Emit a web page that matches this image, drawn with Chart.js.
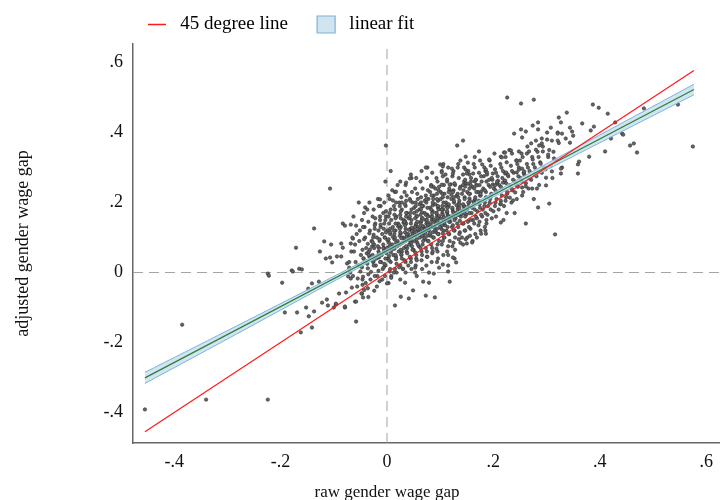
<!DOCTYPE html>
<html>
<head>
<meta charset="utf-8">
<script src="https://cdn.jsdelivr.net/npm/chart.js@4.4.1/dist/chart.umd.min.js"></script>
<style>
  html, body { margin: 0; background: #fff; }
  #wrap { width: 720px; height: 500px; }
</style>
</head>
<body>
<div id="wrap"><canvas id="chart"></canvas></div>
<script>
// axis ranges and tick labels
const xRange = [-0.4774, 0.626];
const yRange = [-0.487, 0.653];
const xTickVals = [-0.4, -0.2, 0, 0.2, 0.4, 0.6];
const yTickVals = [-0.4, -0.2, 0, 0.2, 0.4, 0.6];

// 45 degree line and linear fit (ends)
const diagX = [-0.455, 0.577];
const diagY = [-0.455, 0.577];
const fitX = [-0.455, 0.577];
const fitY = [-0.301, 0.523];
// confidence band of the fit
const ciX = [-0.455, -0.3, -0.15, 0, 0.08, 0.2, 0.35, 0.577];
const ciLow = [-0.317, -0.19, -0.066, 0.057, 0.122, 0.216, 0.332, 0.508];
const ciHigh = [-0.285, -0.166, -0.05, 0.067, 0.13, 0.228, 0.352, 0.538];

// raw gap, adjusted gap for every unit
const gapPoints = [
  // outer left
  [-0.455,-0.391],[-0.385,-0.149],[-0.34,-0.363],[-0.224,-0.363],[-0.224,-0.003],[-0.179,0.006],[-0.165,0.011],
  [-0.107,0.24],[-0.137,0.126],[-0.171,0.071],[-0.126,0.06],[-0.177,0.003],[-0.16,0.009],[-0.222,-0.009],[-0.197,-0.029],
  [-0.192,-0.114],[-0.169,-0.114],[-0.162,-0.171],[-0.152,-0.1],[-0.147,-0.125],[-0.141,-0.157],[-0.137,-0.111],
  [-0.148,-0.046],[-0.141,-0.031],[-0.128,-0.026],[-0.122,-0.086],[-0.113,-0.077],[-0.111,-0.094],[-0.1,-0.1],
  [-0.096,-0.091],[-0.09,-0.06],[-0.077,-0.057],[-0.079,-0.1],[-0.06,-0.083],[-0.058,-0.14],[-0.045,-0.071],
  [-0.047,-0.06],[-0.118,0.089],[-0.105,0.08],[-0.115,0.04],[-0.107,0.043],[-0.103,0.029],[-0.094,0.046],
  [-0.086,0.046],[-0.086,0.083],[-0.083,0.071],[-0.083,0.14],[-0.079,0.134],[-0.068,0.137],[-0.058,0.134],
  [-0.053,0.2],[-0.041,0.186],[-0.068,0.083],[-0.064,0.097],[-0.075,0.026],[-0.071,0.014],[-0.073,-0.011],
  [-0.068,-0.017],[-0.066,-0.043],[-0.055,-0.017],[-0.096,-0.089],[-0.079,-0.097],[-0.058,-0.083],
  [-0.067,0.06],[-0.071,0.03],[-0.065,0.1],[-0.069,0.0],[-0.063,0.16],
  // core of the cloud
  [-0.057,0.11],[-0.062,0.06],[-0.059,0.03],[-0.064,-0.01],[-0.056,-0.04],[-0.06,0.08],
  [-0.047,0.15],[-0.052,0.09],[-0.049,0.05],[-0.054,0.02],[-0.046,-0.02],[-0.05,0.003],[-0.051,0.12],[-0.048,-0.06],
  [-0.037,0.18],[-0.042,0.13],[-0.039,0.07],[-0.044,0.04],[-0.036,0.012],[-0.04,-0.03],[-0.041,0.1],[-0.038,0.055],[-0.043,-0.05],
  [-0.027,0.16],[-0.032,0.12],[-0.029,0.09],[-0.034,0.06],[-0.026,0.03],[-0.03,0.002],[-0.031,-0.02],[-0.028,0.075],[-0.033,0.045],[-0.025,0.108],[-0.035,-0.07],
  [-0.017,0.21],[-0.022,0.14],[-0.019,0.1],[-0.024,0.08],[-0.016,0.06],[-0.02,0.04],[-0.021,0.02],[-0.018,-0.01],[-0.023,0.125],[-0.015,0.07],[-0.025,0.033],[-0.019,-0.04],
  [-0.007,0.17],[-0.012,0.13],[-0.009,0.11],[-0.014,0.09],[-0.006,0.07],[-0.01,0.05],[-0.011,0.03],[-0.008,0.01],[-0.013,0.15],[-0.005,0.062],[-0.015,0.043],[-0.009,-0.02],[-0.012,0.19],
  [0.003,0.22],[-0.002,0.16],[0.001,0.12],[-0.004,0.1],[0.004,0.085],[0,0.07],[-0.001,0.055],[0.002,0.04],[-0.003,0.02],[0.005,0.003],[-0.005,0.14],[0.001,0.092],[0.003,-0.03],[-0.002,0.115],
  [0.013,0.19],[0.008,0.15],[0.011,0.13],[0.006,0.11],[0.014,0.095],[0.01,0.08],[0.009,0.065],[0.012,0.05],[0.007,0.03],[0.015,0.01],[0.005,0.17],[0.011,0.102],[0.013,0.072],[0.008,-0.01],[0.01,0.235],
  [0.023,0.2],[0.018,0.16],[0.021,0.14],[0.016,0.12],[0.024,0.105],[0.02,0.09],[0.019,0.075],[0.022,0.06],[0.017,0.045],[0.025,0.02],[0.015,0.18],[0.021,0.132],[0.023,0.082],[0.018,0.0],[0.02,0.25],[0.026,0.112],
  [0.033,0.23],[0.028,0.18],[0.031,0.15],[0.026,0.13],[0.034,0.115],[0.03,0.1],[0.029,0.085],[0.032,0.07],[0.027,0.05],[0.035,0.03],[0.025,0.165],[0.031,0.142],[0.033,0.097],[0.028,0.06],[0.03,0.01],[0.036,0.205],
  [0.043,0.21],[0.038,0.17],[0.041,0.155],[0.036,0.14],[0.044,0.125],[0.04,0.11],[0.039,0.095],[0.042,0.08],[0.037,0.06],[0.045,0.04],[0.035,0.19],[0.041,0.122],[0.043,0.102],[0.038,0.07],[0.04,0.02],[0.046,0.27],[0.034,0.147],
  [0.053,0.24],[0.048,0.2],[0.051,0.17],[0.046,0.15],[0.054,0.135],[0.05,0.12],[0.049,0.105],[0.052,0.09],[0.047,0.075],[0.055,0.05],[0.045,0.03],[0.051,0.185],[0.053,0.13],[0.048,0.112],[0.05,0.065],[0.056,0.162],[0.044,0.088],
  [0.063,0.26],[0.058,0.21],[0.061,0.18],[0.056,0.16],[0.064,0.145],[0.06,0.13],[0.059,0.115],[0.062,0.1],[0.057,0.085],[0.065,0.06],[0.055,0.04],[0.061,0.195],[0.063,0.14],[0.058,0.122],[0.06,0.075],[0.066,0.172],[0.054,0.02],
  [0.073,0.22],[0.068,0.19],[0.071,0.17],[0.066,0.155],[0.074,0.14],[0.07,0.125],[0.069,0.11],[0.072,0.095],[0.067,0.08],[0.075,0.06],[0.065,0.035],[0.071,0.205],[0.073,0.15],[0.068,0.132],[0.07,0.1],[0.076,0.3],[0.064,0.182],
  [0.083,0.25],[0.078,0.21],[0.081,0.185],[0.076,0.165],[0.084,0.15],[0.08,0.135],[0.079,0.12],[0.082,0.105],[0.077,0.09],[0.085,0.07],[0.075,0.045],[0.081,0.23],[0.083,0.16],[0.078,0.142],[0.08,0.11],[0.086,0.192],[0.074,0.02],
  [0.093,0.27],[0.088,0.22],[0.091,0.195],[0.086,0.175],[0.094,0.16],[0.09,0.145],[0.089,0.13],[0.092,0.115],[0.087,0.1],[0.095,0.08],[0.085,0.055],[0.091,0.24],[0.093,0.17],[0.088,0.152],[0.09,0.12],[0.096,0.205],
  [0.103,0.29],[0.098,0.245],[0.101,0.21],[0.096,0.185],[0.104,0.17],[0.1,0.155],[0.099,0.14],[0.102,0.125],[0.097,0.11],[0.105,0.09],[0.095,0.06],[0.101,0.23],[0.103,0.18],[0.098,0.162],[0.1,0.13],[0.106,0.31],[0.094,0.03],
  [0.113,0.26],[0.108,0.225],[0.111,0.2],[0.106,0.18],[0.114,0.165],[0.11,0.15],[0.109,0.135],[0.112,0.12],[0.107,0.1],[0.115,0.075],[0.105,0.215],[0.111,0.19],[0.113,0.172],[0.108,0.142],[0.11,0.28],
  [0.123,0.275],[0.118,0.235],[0.121,0.21],[0.116,0.19],[0.124,0.175],[0.12,0.16],[0.119,0.145],[0.122,0.13],[0.117,0.11],[0.125,0.085],[0.115,0.05],[0.121,0.222],[0.123,0.182],[0.118,0.155],[0.12,0.252],
  [0.133,0.3],[0.128,0.25],[0.131,0.22],[0.126,0.2],[0.134,0.185],[0.13,0.17],[0.129,0.155],[0.132,0.14],[0.127,0.12],[0.135,0.095],[0.125,0.235],[0.131,0.192],[0.133,0.165],[0.128,0.065],
  [0.143,0.28],[0.138,0.245],[0.141,0.225],[0.136,0.205],[0.144,0.19],[0.14,0.175],[0.139,0.16],[0.142,0.14],[0.137,0.115],[0.145,0.26],[0.135,0.197],[0.141,0.168],[0.143,0.08],[0.138,0.32],
  [0.153,0.29],[0.148,0.255],[0.151,0.23],[0.146,0.215],[0.154,0.2],[0.15,0.18],[0.149,0.165],[0.152,0.145],[0.147,0.12],[0.155,0.24],[0.145,0.19],[0.151,0.1],
  [0.163,0.31],[0.158,0.27],[0.161,0.245],[0.156,0.225],[0.164,0.205],[0.16,0.185],[0.159,0.17],[0.162,0.15],[0.157,0.125],[0.165,0.26],[0.155,0.212],[0.161,0.09],
  [0.173,0.285],[0.168,0.25],[0.171,0.23],[0.166,0.21],[0.174,0.195],[0.17,0.175],[0.169,0.155],[0.172,0.135],[0.167,0.265],[0.175,0.22],[0.165,0.33],
  [0.183,0.3],[0.178,0.26],[0.181,0.24],[0.176,0.22],[0.184,0.2],[0.18,0.18],[0.179,0.16],[0.182,0.275],[0.177,0.232],[0.185,0.12],
  [0.193,0.32],[0.188,0.28],[0.191,0.25],[0.186,0.23],[0.194,0.21],[0.19,0.19],[0.189,0.165],[0.192,0.265],[0.187,0.14],
  [0.203,0.295],[0.198,0.265],[0.201,0.24],[0.196,0.22],[0.204,0.2],[0.2,0.175],[0.199,0.252],[0.202,0.34],
  [0.213,0.31],[0.208,0.275],[0.211,0.25],[0.206,0.23],[0.214,0.205],[0.21,0.18],[0.209,0.262],
  [0.223,0.33],[0.218,0.29],[0.221,0.26],[0.216,0.24],[0.224,0.215],[0.22,0.19],[0.219,0.15],
  [0.233,0.305],[0.228,0.275],[0.231,0.25],[0.226,0.225],[0.234,0.2],[0.23,0.35],
  [0.243,0.32],[0.238,0.285],[0.241,0.26],[0.236,0.235],[0.244,0.21],[0.24,0.17],
  [0.253,0.34],[0.248,0.3],[0.251,0.27],[0.246,0.245],[0.254,0.22],
  [0.263,0.31],[0.258,0.28],[0.261,0.255],[0.256,0.23],[0.264,0.36],
  [0.273,0.33],[0.268,0.29],[0.271,0.265],[0.266,0.24],
  [0.283,0.345],[0.278,0.3],[0.281,0.275],[0.276,0.21],
  [0.293,0.36],[0.288,0.315],[0.291,0.285],[0.286,0.25],
  [0.303,0.33],[0.298,0.295],[0.301,0.38],
  [0.313,0.345],[0.308,0.305],[0.311,0.27],
  [0.323,0.37],[0.318,0.32],[0.321,0.4],
  // core, second pass between the first columns
  [-0.045,0.13],[-0.043,0.095],[-0.046,0.065],[-0.044,0.04],[-0.047,0.015],[-0.045,-0.012],[-0.043,0.17],[-0.046,-0.035],
  [-0.035,0.145],[-0.033,0.112],[-0.036,0.082],[-0.034,0.05],[-0.037,0.025],[-0.035,-0.005],[-0.033,0.2],[-0.036,-0.045],[-0.032,0.066],
  [-0.025,0.18],[-0.023,0.135],[-0.026,0.1],[-0.024,0.07],[-0.027,0.05],[-0.025,0.02],[-0.023,-0.01],[-0.022,0.155],[-0.027,0.087],[-0.024,-0.052],
  [-0.015,0.19],[-0.013,0.16],[-0.016,0.12],[-0.014,0.095],[-0.017,0.075],[-0.015,0.055],[-0.013,0.03],[-0.016,0.005],[-0.014,-0.025],[-0.012,0.137],[-0.017,0.045],
  [-0.005,0.2],[-0.003,0.15],[-0.006,0.125],[-0.004,0.1],[-0.007,0.08],[-0.005,0.06],[-0.003,0.04],[-0.006,0.015],[-0.004,-0.01],[-0.002,0.175],[-0.007,0.07],[-0.005,0.025],[-0.003,0.26],
  [0.005,0.21],[0.007,0.18],[0.004,0.14],[0.006,0.115],[0.003,0.095],[0.005,0.075],[0.007,0.058],[0.004,0.035],[0.006,0.01],[0.008,-0.015],[0.003,0.16],[0.006,0.125],[0.004,0.047],[0.007,0.29],
  [0.015,0.23],[0.017,0.2],[0.014,0.165],[0.016,0.14],[0.013,0.12],[0.015,0.1],[0.017,0.085],[0.014,0.068],[0.016,0.05],[0.018,0.025],[0.013,0.0],[0.016,0.155],[0.014,0.11],[0.017,0.038],
  [0.025,0.26],[0.027,0.215],[0.024,0.19],[0.026,0.155],[0.023,0.135],[0.025,0.115],[0.027,0.098],[0.024,0.08],[0.026,0.065],[0.028,0.04],[0.023,0.015],[0.026,0.175],[0.024,0.125],[0.027,0.052],[0.025,-0.02],
  [0.035,0.25],[0.037,0.22],[0.034,0.195],[0.036,0.17],[0.033,0.145],[0.035,0.125],[0.037,0.108],[0.034,0.09],[0.036,0.075],[0.038,0.055],[0.033,0.035],[0.036,0.16],[0.034,0.135],[0.037,0.1],[0.035,0.0],
  [0.045,0.28],[0.047,0.23],[0.044,0.205],[0.046,0.18],[0.043,0.16],[0.045,0.14],[0.047,0.118],[0.044,0.1],[0.046,0.085],[0.048,0.065],[0.043,0.045],[0.046,0.01],[0.044,0.17],[0.047,0.128],[0.045,0.092],
  [0.055,0.27],[0.057,0.225],[0.054,0.2],[0.056,0.175],[0.053,0.155],[0.055,0.14],[0.057,0.125],[0.054,0.108],[0.056,0.095],[0.058,0.08],[0.053,0.058],[0.056,0.035],[0.054,0.19],[0.057,0.145],[0.055,0.115],[0.056,-0.01],
  [0.065,0.29],[0.067,0.24],[0.064,0.215],[0.066,0.19],[0.063,0.165],[0.065,0.148],[0.067,0.132],[0.064,0.118],[0.066,0.105],[0.068,0.09],[0.063,0.07],[0.066,0.05],[0.064,0.2],[0.067,0.155],[0.065,0.125],[0.066,0.01],
  [0.075,0.27],[0.077,0.235],[0.074,0.21],[0.076,0.185],[0.073,0.165],[0.075,0.15],[0.077,0.136],[0.074,0.12],[0.076,0.105],[0.078,0.09],[0.073,0.07],[0.076,0.045],[0.074,0.2],[0.077,0.16],[0.075,0.128],[0.072,0.115],
  [0.085,0.285],[0.087,0.245],[0.084,0.22],[0.086,0.2],[0.083,0.18],[0.085,0.16],[0.087,0.145],[0.084,0.13],[0.086,0.115],[0.088,0.1],[0.083,0.08],[0.086,0.06],[0.084,0.03],[0.087,0.21],[0.085,0.17],[0.082,0.138],
  [0.095,0.26],[0.097,0.235],[0.094,0.21],[0.096,0.19],[0.093,0.17],[0.095,0.155],[0.097,0.14],[0.094,0.125],[0.096,0.11],[0.098,0.09],[0.093,0.068],[0.096,0.04],[0.094,0.225],[0.097,0.18],[0.095,0.148],
  [0.105,0.275],[0.107,0.25],[0.104,0.225],[0.106,0.2],[0.103,0.18],[0.105,0.165],[0.107,0.15],[0.104,0.135],[0.106,0.12],[0.108,0.1],[0.103,0.08],[0.106,0.05],[0.104,0.19],[0.107,0.158],[0.105,0.112],
  [0.115,0.3],[0.117,0.24],[0.114,0.215],[0.116,0.195],[0.113,0.175],[0.115,0.16],[0.117,0.145],[0.114,0.13],[0.116,0.11],[0.118,0.09],[0.113,0.06],[0.116,0.23],[0.114,0.185],[0.117,0.152],
  [0.125,0.29],[0.127,0.255],[0.124,0.23],[0.126,0.205],[0.123,0.185],[0.125,0.17],[0.127,0.15],[0.124,0.135],[0.126,0.12],[0.128,0.1],[0.123,0.075],[0.126,0.215],[0.124,0.16],[0.127,0.04],
  [0.135,0.27],[0.137,0.24],[0.134,0.215],[0.136,0.195],[0.133,0.18],[0.135,0.165],[0.137,0.148],[0.134,0.13],[0.136,0.11],[0.138,0.085],[0.133,0.225],[0.136,0.185],[0.134,0.31],
  [0.145,0.3],[0.147,0.265],[0.144,0.235],[0.146,0.21],[0.143,0.195],[0.145,0.18],[0.147,0.16],[0.144,0.14],[0.146,0.12],[0.148,0.095],[0.143,0.25],[0.146,0.17],
  [0.155,0.28],[0.157,0.25],[0.154,0.225],[0.156,0.205],[0.153,0.19],[0.155,0.17],[0.157,0.15],[0.154,0.13],[0.156,0.105],[0.158,0.26],[0.153,0.2],
  [0.165,0.3],[0.167,0.265],[0.164,0.24],[0.166,0.215],[0.163,0.2],[0.165,0.18],[0.167,0.16],[0.164,0.14],[0.166,0.11],[0.168,0.23],
  [0.175,0.32],[0.177,0.275],[0.174,0.25],[0.176,0.225],[0.173,0.205],[0.175,0.185],[0.177,0.165],[0.174,0.145],[0.176,0.12],
  [0.185,0.29],[0.187,0.26],[0.184,0.235],[0.186,0.215],[0.183,0.19],[0.185,0.17],[0.187,0.15],[0.184,0.13],
  [0.195,0.305],[0.197,0.27],[0.194,0.245],[0.196,0.225],[0.193,0.2],[0.195,0.18],[0.197,0.155],
  [0.205,0.285],[0.207,0.255],[0.204,0.235],[0.206,0.21],[0.203,0.19],[0.205,0.16],
  [0.215,0.3],[0.217,0.27],[0.214,0.245],[0.216,0.22],[0.213,0.195],
  [0.225,0.315],[0.227,0.28],[0.224,0.255],[0.226,0.23],[0.223,0.205],[0.225,0.17],
  [0.235,0.29],[0.237,0.265],[0.234,0.24],[0.245,0.31],[0.247,0.275],[0.244,0.25],[0.255,0.33],[0.257,0.285],
  [0.254,0.26],[0.265,0.3],[0.267,0.27],[0.275,0.31],[0.277,0.28],[0.285,0.33],[0.295,0.3],[0.305,0.35],
  // top edge of the cloud
  [-0.002,0.363],[0.143,0.377],[0.132,0.363],[0.173,0.346],[0.148,0.331],[0.152,0.314],[0.179,0.309],[0.192,0.323],
  [0.214,0.331],[0.22,0.343],[0.1,0.309],[0.105,0.303],[0.073,0.3],[0.122,0.297],[0.103,0.286],[0.148,0.294],
  [0.15,0.283],[0.124,0.283],[0.113,0.266],[0.162,0.283],[0.186,0.294],[0.188,0.286],[0.199,0.283],[0.222,0.283],
  [0.043,0.269],[0.036,0.257],[0.017,0.231],[0.083,0.246],[0.103,0.251],[0.118,0.251],[0.152,0.254],[0.169,0.249],
  [0.147,0.246],[0.207,0.26],[0.203,0.249],[-0.013,0.209],[0.011,0.206],[0.028,0.2],
  // upper right
  [0.226,0.5],[0.252,0.483],[0.276,0.494],[0.387,0.48],[0.398,0.471],[0.415,0.454],[0.323,0.443],[0.338,0.457],
  [0.327,0.429],[0.367,0.426],[0.389,0.417],[0.383,0.406],[0.344,0.414],[0.348,0.403],[0.35,0.391],[0.336,0.383],
  [0.344,0.371],[0.321,0.397],[0.329,0.397],[0.321,0.377],[0.308,0.414],[0.284,0.429],[0.274,0.42],[0.284,0.409],
  [0.301,0.4],[0.291,0.383],[0.28,0.377],[0.31,0.377],[0.291,0.369],[0.286,0.363],[0.271,0.369],[0.28,0.351],
  [0.293,0.346],[0.263,0.34],[0.267,0.346],[0.239,0.397],[0.252,0.409],[0.261,0.403],[0.254,0.386],[0.216,0.329],
  [0.222,0.343],[0.233,0.349],[0.235,0.34],[0.248,0.346],[0.303,0.337],[0.289,0.311],[0.274,0.323],[0.244,0.32],
  [0.25,0.32],[0.314,0.326],[0.329,0.3],[0.327,0.297],[0.361,0.317],[0.359,0.309],[0.359,0.283],[0.327,0.283],
  [0.31,0.289],[0.299,0.271],[0.299,0.249],[0.282,0.24],[0.273,0.24],[0.261,0.246],[0.254,0.243],[0.241,0.229],
  [0.224,0.286],[0.244,0.286],[0.248,0.294],[0.254,0.297],[0.258,0.289],[0.218,0.257],[0.222,0.263],[0.231,0.214],
  [0.237,0.206],[0.284,0.186],[0.305,0.197],[0.261,0.14],[0.316,0.109],[0.214,0.143],[0.214,0.197],[0.38,0.331],
  [0.41,0.346],[0.421,0.383],[0.442,0.397],[0.429,0.429],
  [0.483,0.469],[0.547,0.48],[0.575,0.36],[0.457,0.363],[0.464,0.369],[0.47,0.343],[0.444,0.394],
  // below the 45 degree line
  [0.015,-0.094],[0.026,-0.069],[0.041,-0.074],[0.049,-0.051],[0.073,-0.066],[0.09,-0.071],[0.068,-0.026],
  [0.079,-0.029],[0.118,-0.026],[0.034,-0.029],[0.053,0.0],[0.115,0.003],[0.079,0.0],[0.088,-0.003],[0.098,0.014],
  [0.105,0.023],[0.115,0.02],[0.13,0.029],[0.124,0.043],[0.053,0.014],[0.0,-0.031],[0.03,0.011],[0.15,0.083],
  [0.16,0.086],[0.177,0.111],[0.186,0.111],[0.169,0.1],[0.141,0.1]
];

const serif = '"Liberation Serif", "Times New Roman", serif';
const pair = (xs, ys) => xs.map((x, i) => ({ x: x, y: ys[i] }));
const fmtTick = v => {
  if (Math.abs(v) < 1e-9) return '0';
  return (v < 0 ? '-' : '') + Math.abs(v).toFixed(1).replace(/^0/, '');
};

// x axis title sits under the zero tick, as in the original
const xTitlePlugin = {
  id: 'xTitle',
  afterDraw(chart) {
    const { ctx, scales } = chart;
    ctx.save();
    ctx.font = '17px ' + serif;
    ctx.fillStyle = '#111';
    ctx.textAlign = 'center';
    ctx.textBaseline = 'middle';
    ctx.fillText('raw gender wage gap', scales.x.getPixelForValue(0), scales.x.bottom - 7);
    ctx.restore();
  }
};

document.addEventListener('DOMContentLoaded', function () {
  const ctx = document.getElementById('chart').getContext('2d');

  new Chart(ctx, {
    type: 'scatter',
    data: {
      datasets: [
        {
          type: 'line', label: 'ci low', data: pair(ciX, ciLow),
          borderColor: '#7fb2d6', borderWidth: 1, pointRadius: 0, fill: false, tension: 0.3, order: 5
        },
        {
          type: 'line', label: 'linear fit', data: pair(ciX, ciHigh),
          borderColor: '#7fb2d6', borderWidth: 1, pointRadius: 0, tension: 0.3,
          fill: '-1', backgroundColor: 'rgba(196,223,238,0.8)', order: 5
        },
        {
          type: 'line', label: 'fit', data: pair(fitX, fitY),
          borderColor: '#2e7d3c', borderWidth: 1.2, pointRadius: 0, fill: false, order: 3
        },
        {
          type: 'line', label: '45 degree line', data: pair(diagX, diagY),
          borderColor: '#ff1a1a', borderWidth: 1.2, pointRadius: 0, fill: false, order: 1
        },
        {
          label: 'units', data: gapPoints.map(p => ({ x: p[0], y: p[1] })),
          pointRadius: 1.7, pointBackgroundColor: '#666', pointBorderColor: '#2e2e2e',
          pointBorderWidth: 0.6, order: 10
        },
        {
          type: 'line', label: 'x0', data: pair([0, 0], yRange),
          borderColor: '#a0a0a0', borderWidth: 1, borderDash: [10, 6], pointRadius: 0, fill: false, order: 20
        },
        {
          type: 'line', label: 'y0', data: pair(xRange, [0, 0]),
          borderColor: '#a0a0a0', borderWidth: 1, borderDash: [10, 6], pointRadius: 0, fill: false, order: 20
        }
      ]
    },
    options: {
      responsive: true,
      maintainAspectRatio: false,
      animation: false,
      layout: { padding: 0, autoPadding: false },
      plugins: {
        tooltip: { enabled: false },
        legend: {
          position: 'top',
          align: 'start',
          fullSize: false,
          labels: {
            usePointStyle: true,
            pointStyleWidth: 18,
            boxHeight: 17,
            padding: 15,
            color: '#111',
            font: { family: serif, size: 19 },
            generateLabels: () => [
              { text: ' 45 degree line   ', pointStyle: 'line', strokeStyle: '#ff1a1a', fillStyle: '#ff1a1a', lineWidth: 1.5, datasetIndex: 3 },
              { text: ' linear fit', pointStyle: 'rect', strokeStyle: '#7fb2d6', fillStyle: '#d1e5f0', lineWidth: 1.2, datasetIndex: 1 }
            ]
          }
        }
      },
      scales: {
        x: {
          type: 'linear',
          min: xRange[0],
          max: xRange[1],
          afterBuildTicks: s => { s.ticks = xTickVals.map(v => ({ value: v })); },
          afterFit: s => { s.height = 57; s.paddingLeft = 0; s.paddingRight = 0; },
          grid: { display: false, drawTicks: false },
          border: { display: true, color: '#666', width: 1.5 },
          ticks: { callback: fmtTick, color: '#111', font: { family: serif, size: 18 }, padding: 8, maxRotation: 0, autoSkip: false }
        },
        y: {
          type: 'linear',
          min: yRange[0],
          max: yRange[1],
          afterBuildTicks: s => { s.ticks = yTickVals.map(v => ({ value: v })); },
          afterFit: s => { s.width = 133; s.paddingTop = 0; s.paddingBottom = 0; },
          grid: { display: false, drawTicks: false },
          border: { display: true, color: '#666', width: 1.5 },
          ticks: { callback: fmtTick, color: '#111', font: { family: serif, size: 18 }, padding: 10, autoSkip: false },
          title: {
            display: true,
            text: 'adjusted gender wage gap',
            color: '#111',
            font: { family: serif, size: 18 },
            padding: { top: 12, bottom: 0 }
          }
        }
      }
    },
    plugins: [xTitlePlugin]
  });
});
</script>
</body>
</html>
